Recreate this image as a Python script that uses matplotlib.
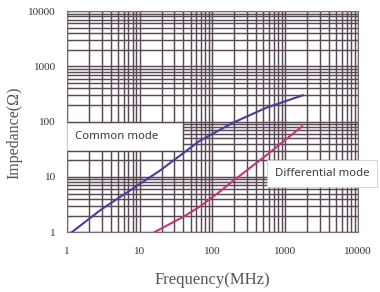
import numpy as np
import matplotlib
matplotlib.use('Agg')
import matplotlib.pyplot as plt
from matplotlib.patches import Rectangle
from matplotlib.ticker import LogLocator, FixedLocator, NullFormatter

# values (log-log)
common_freq = [1.17, 3.0, 10, 19, 67, 190, 560, 1750]
common_imp = [1.0, 2.6, 7.4, 13, 45, 95, 180, 300]
diff_freq = [16, 40, 67, 126, 191, 560, 1700]
diff_imp = [1.0, 1.9, 2.9, 5.4, 8.4, 25, 82]
ticks = [1, 10, 100, 1000, 10000]
tick_labels = ['1', '10', '100', '1000', '10000']

grid_col = '#584954'

fig = plt.figure(figsize=(3.8, 2.92), dpi=100)
ax = fig.add_axes([0.176, 0.205, 0.766, 0.757])
ax.set_xscale('log')
ax.set_yscale('log')
ax.set_xlim(1, 10000)
ax.set_ylim(1, 10000)

ax.xaxis.set_major_locator(FixedLocator(ticks))
ax.yaxis.set_major_locator(FixedLocator(ticks))
ax.set_xticklabels(tick_labels)
ax.set_yticklabels(tick_labels)
ax.xaxis.set_minor_locator(LogLocator(base=10, subs=np.arange(2, 10)))
ax.yaxis.set_minor_locator(LogLocator(base=10, subs=np.arange(2, 10)))
ax.xaxis.set_minor_formatter(NullFormatter())
ax.yaxis.set_minor_formatter(NullFormatter())

ax.grid(True, which='both', color=grid_col, linewidth=1.05)
ax.set_axisbelow(True)
ax.tick_params(which='both', length=0)
ax.tick_params(axis='x', pad=11, labelsize=8, labelcolor='#333333')
ax.tick_params(axis='y', pad=8, labelsize=8, labelcolor='#333333')
for lab in ax.get_xticklabels() + ax.get_yticklabels():
    lab.set_family('Liberation Serif')
for sp in ax.spines.values():
    sp.set_color('#7a6c76')
    sp.set_linewidth(0.8)

ax.plot(common_freq, common_imp, color='#4a3d9c', linewidth=1.5, zorder=3)
ax.plot(diff_freq, diff_imp, color='#c2357f', linewidth=1.5, zorder=3)

# label boxes
ax.add_patch(Rectangle((0.0, 0.371), 0.395, 0.122, transform=ax.transAxes,
                       facecolor='white', edgecolor='#cfcfcf', linewidth=0.6, zorder=4))
ax.text(0.0275, 0.432, 'Common mode', transform=ax.transAxes, fontsize=8.2,
        family='Noto Sans', color='#3a3a3a', va='center', ha='left', zorder=5)

box = dict(boxstyle='square,pad=0.7', facecolor='white', edgecolor='#cfcfcf', linewidth=0.6)
ax.text(720, 11.3, 'Differential mode', fontsize=8.2, family='Noto Sans', color='#3a3a3a',
        va='center', ha='left', bbox=box, zorder=4, clip_on=False)

ax.set_xlabel('Frequency(MHz)', family='Liberation Serif', fontsize=12, color='#555555', labelpad=11)
fig.text(0.037, 0.545, 'Impedance(\u03a9)', family='Liberation Serif', fontsize=11.5,
         color='#555555', rotation=90, ha='center', va='center')

fig.savefig('out.png', dpi=100)
